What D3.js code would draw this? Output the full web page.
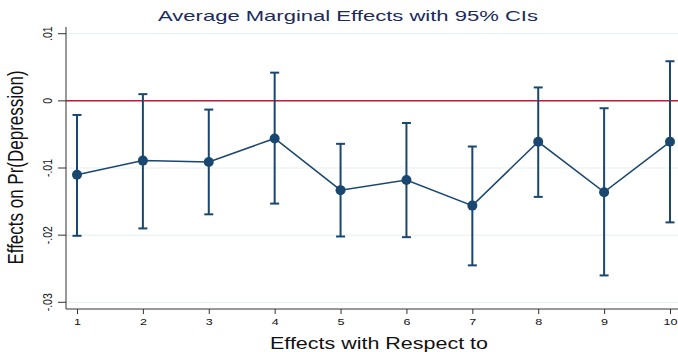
<html lang="en">
<head>
  <meta charset="utf-8"/>
  <title>Average Marginal Effects</title>
  <script src="https://d3js.org/d3.v7.min.js"></script>
  <style>
  body { margin: 0; background: white; }
  * { font-family: "Liberation Sans", Arial, sans-serif; }
  .grid line { stroke: #e6eff1; stroke-width: 1px; }
  .axis path, .axis line { stroke: #333; stroke-width: 1px; }
  .axis text { fill: #111; }
  </style>
</head>
<body>
  <svg id="chart" width="678" height="352"></svg>
  <script>
    // values
    const effects = [1, 2, 3, 4, 5, 6, 7, 8, 9, 10];
    const estimate = [-0.0110, -0.0089, -0.0091, -0.0056, -0.0133, -0.0118, -0.0156, -0.0061, -0.0136, -0.0061];
    const upper = [-0.0021, 0.0010, -0.0013, 0.0042, -0.0064, -0.0033, -0.0068, 0.0020, -0.0011, 0.0059];
    const lower = [-0.0201, -0.0190, -0.0169, -0.0153, -0.0202, -0.0203, -0.0245, -0.0143, -0.0260, -0.0181];
    const yTicks = [0.01, 0, -0.01, -0.02, -0.03];
    const yTickLabels = [".01", "0", "-.01", "-.02", "-.03"];

    const svg = d3.select("#chart");
    const plotLeft = 66, plotRight = 680, plotTop = 27, plotBottom = 309;
    const navy = "#1a476f";
    const stretch = 1.27; // the picture is wider than tall, text included

    const x = d3.scaleLinear().domain([1, 10]).range([77, 670]);
    const y = d3.scaleLinear().domain([-0.031, 0.011]).range([plotBottom, plotTop]);

    // gridlines
    svg.append("g").attr("class", "grid")
      .selectAll("line").data(yTicks).join("line")
      .attr("x1", plotLeft).attr("x2", plotRight)
      .attr("y1", d => y(d)).attr("y2", d => y(d));

    // zero reference line
    svg.append("line")
      .attr("x1", plotLeft).attr("x2", plotRight)
      .attr("y1", y(0)).attr("y2", y(0))
      .attr("stroke", "#c8183a").attr("stroke-width", 1.5);

    // axes
    const yAxis = svg.append("g").attr("class", "axis")
      .attr("transform", "translate(" + plotLeft + ",0)")
      .call(d3.axisLeft(y).tickValues(yTicks).tickFormat((d, i) => yTickLabels[i]).tickSize(8).tickSizeOuter(0));
    yAxis.select(".domain").attr("d", "M0," + plotTop + "V" + plotBottom);
    yAxis.selectAll(".tick").attr("transform", null);
    yAxis.selectAll(".tick line").attr("y1", d => y(d)).attr("y2", d => y(d));
    yAxis.selectAll(".tick text")
      .attr("transform", d => "translate(-14," + y(d) + ") scale(1.25,1) rotate(-90)")
      .attr("x", 0).attr("y", 0).attr("dy", 0)
      .attr("text-anchor", "middle")
      .style("font-size", "10.5px");

    const xAxis = svg.append("g").attr("class", "axis")
      .attr("transform", "translate(0," + plotBottom + ")")
      .call(d3.axisBottom(x).tickValues(effects).tickFormat(d3.format("d")).tickSize(5).tickSizeOuter(0));
    xAxis.select(".domain").attr("d", "M" + plotLeft + ",0H" + plotRight);
    xAxis.selectAll("text")
      .attr("y", 16).attr("dy", 0)
      .attr("transform", "scale(1.4,1)")
      .style("font-size", "9px");

    // confidence intervals
    const ci = svg.append("g").attr("stroke", navy).attr("stroke-width", 2);
    effects.forEach((e, i) => {
      ci.append("line")
        .attr("x1", x(e)).attr("x2", x(e))
        .attr("y1", y(upper[i])).attr("y2", y(lower[i]));
      [upper[i], lower[i]].forEach(v => {
        ci.append("line")
          .attr("x1", x(e) - 4.5).attr("x2", x(e) + 4.5)
          .attr("y1", y(v)).attr("y2", y(v));
      });
    });

    // connecting line and markers
    const line = d3.line().x((d, i) => x(effects[i])).y(d => y(d));
    svg.append("path").datum(estimate)
      .attr("d", line).attr("fill", "none")
      .attr("stroke", navy).attr("stroke-width", 1.5);
    svg.append("g").selectAll("circle").data(estimate).join("circle")
      .attr("cx", (d, i) => x(effects[i])).attr("cy", d => y(d))
      .attr("r", 5).attr("fill", navy);

    // titles
    svg.append("text").attr("x", 348).attr("y", 21)
      .attr("text-anchor", "middle").attr("fill", "#1a2b5c")
      .attr("textLength", 380).attr("lengthAdjust", "spacingAndGlyphs")
      .style("font-size", "15px").text("Average Marginal Effects with 95% CIs");
    svg.append("text").attr("x", 379).attr("y", 349)
      .attr("text-anchor", "middle").attr("fill", "#111")
      .attr("textLength", 218).attr("lengthAdjust", "spacingAndGlyphs")
      .style("font-size", "17px").text("Effects with Respect to");
    svg.append("text")
      .attr("transform", "translate(23,167.5) scale(" + stretch + ",1) rotate(-90)")
      .attr("text-anchor", "middle").attr("fill", "#111")
      .style("font-size", "17px").text("Effects on Pr(Depression)");
  </script>
</body>
</html>
